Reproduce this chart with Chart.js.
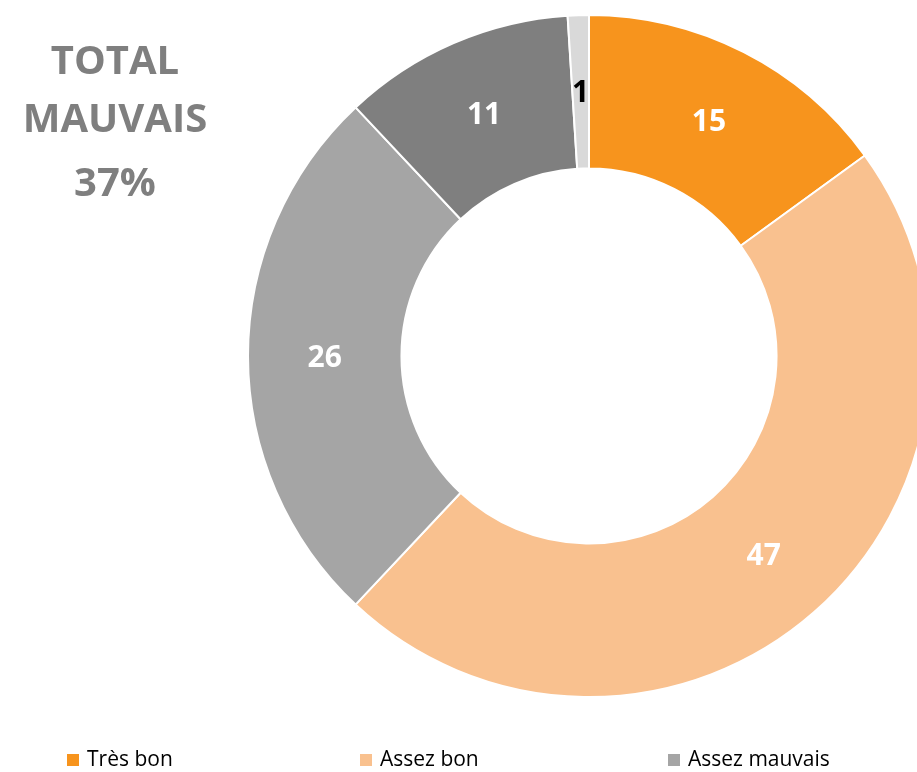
<!DOCTYPE html>
<html>
<head>
<meta charset="utf-8">
<script src="https://cdn.jsdelivr.net/npm/chart.js@4"></script>
<style>
  html, body { margin: 0; padding: 0; background: #fff; overflow: hidden; }
  #wrap { position: relative; width: 917px; height: 772px; }
</style>
</head>
<body>
<div id="wrap"><canvas id="chart" width="917" height="772"></canvas></div>
<script>
const categories = ["Très bon", "Assez bon", "Assez mauvais", "Très mauvais", "Ne sait pas"];
const values = [15, 47, 26, 11, 1];
const colors = ["#F7941D", "#F9C18F", "#A5A5A5", "#7F7F7F", "#D9D9D9"];
const labelColors = ["#ffffff", "#ffffff", "#ffffff", "#ffffff", "#000000"];
const badIndexes = [2, 3];

const font = "'Open Sans', 'Noto Sans', sans-serif";

// doughnut sits partly off the right edge, so place its area by hand
const placeArea = {
  id: "placeArea",
  afterLayout(chart) {
    const a = chart.chartArea;
    a.left = 247; a.top = 14; a.right = 931; a.bottom = 698;
    a.width = 684; a.height = 684;
  },
};

const sliceLabels = {
  id: "sliceLabels",
  afterDatasetsDraw(chart) {
    const ctx = chart.ctx;
    const meta = chart.getDatasetMeta(0);
    ctx.save();
    ctx.font = "bold 30px " + font;
    ctx.textAlign = "center";
    ctx.textBaseline = "middle";
    meta.data.forEach((arc, i) => {
      const p = arc.tooltipPosition();
      ctx.fillStyle = labelColors[i];
      ctx.fillText(String(values[i]), p.x, p.y + 2);
    });
    ctx.restore();
  },
};

const sideText = {
  id: "sideText",
  afterDraw(chart) {
    const ctx = chart.ctx;
    const total = values.reduce((s, v) => s + v, 0);
    const bad = badIndexes.reduce((s, i) => s + values[i], 0);
    const lines = ["TOTAL", "MAUVAIS", Math.round((bad / total) * 100) + "%"];
    const ys = [63, 121, 185];
    ctx.save();
    ctx.font = "bold 40px " + font;
    ctx.fillStyle = "#7F7F7F";
    ctx.textAlign = "center";
    ctx.textBaseline = "middle";
    lines.forEach((t, i) => ctx.fillText(t, 115, ys[i]));
    ctx.restore();
  },
};

const bottomLegend = {
  id: "bottomLegend",
  afterDraw(chart) {
    const ctx = chart.ctx;
    const xs = [67, 360, 668];
    ctx.save();
    ctx.font = "21px " + font;
    ctx.textBaseline = "middle";
    xs.forEach((x, i) => {
      ctx.fillStyle = colors[i];
      ctx.fillRect(x, 754, 12, 12);
      ctx.fillStyle = "#000";
      ctx.fillText(categories[i], x + 20, 760);
    });
    ctx.restore();
  },
};

new Chart(document.getElementById("chart"), {
  type: "doughnut",
  data: {
    labels: categories,
    datasets: [{
      data: values,
      backgroundColor: colors,
      borderColor: "#ffffff",
      borderWidth: 2,
    }],
  },
  options: {
    responsive: false,
    animation: false,
    cutout: "55%",
    plugins: {
      legend: { display: false },
      tooltip: { enabled: false },
    },
  },
  plugins: [placeArea, sliceLabels, sideText, bottomLegend],
});
</script>
</body>
</html>
